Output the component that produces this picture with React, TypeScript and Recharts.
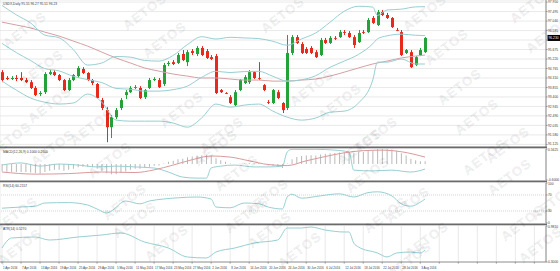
import { Bar, CartesianGrid, ComposedChart, Line, ReferenceLine, XAxis, YAxis } from 'recharts'

// USDX daily, 1 Apr 2016 – 4 Aug 2016
const tickLabels = [
  '1 Apr 2016', '7 Apr 2016', '13 Apr 2016', '19 Apr 2016', '25 Apr 2016', '29 Apr 2016',
  '5 May 2016', '11 May 2016', '17 May 2016', '23 May 2016', '27 May 2016', '2 Jun 2016',
  '8 Jun 2016', '14 Jun 2016', '20 Jun 2016', '24 Jun 2016', '30 Jun 2016', '6 Jul 2016',
  '12 Jul 2016', '18 Jul 2016', '22 Jul 2016', '28 Jul 2016', '3 Aug 2016',
]

const openPx = [
  94.59, 94.31, 94.26, 94.31, 94.31, 94.21, 94.11, 93.83, 93.54, 93.63,
  94.5, 94.59, 94.45, 94.21, 93.73, 94.21, 94.4, 94.74, 94.55, 94.21,
  94.02, 93.25, 92.77, 91.95, 92.43, 92.87, 93.49, 93.63, 93.83, 93.83,
  93.39, 93.83, 94.21, 94.21, 94.02, 94.98, 95.07, 95.03, 95.46, 95.07,
  95.6, 95.46, 95.75, 95.6, 95.31, 95.36, 93.73, 93.59, 93.39, 93.01,
  93.73, 94.07, 94.11, 94.59, 94.31, 93.97, 93.15, 93.11, 93.63, 93.11,
  92.87, 95.51, 96.27, 95.94, 95.7, 95.75, 95.55, 95.41, 96.13, 95.99,
  96.23, 96.27, 96.51, 96.47, 96.27, 96.03, 96.51, 96.51, 97.19, 96.85,
  97.47, 97.33, 97.19, 96.61, 96.51, 95.51, 95.55, 94.93, 95.41, 95.55,
]
const closePx = [
  94.21, 94.26, 94.31, 94.26, 94.21, 94.11, 93.83, 93.49, 93.59, 94.5,
  94.59, 94.45, 94.21, 93.73, 94.21, 94.45, 94.79, 94.55, 94.21, 94.07,
  93.35, 92.87, 91.95, 92.43, 92.77, 93.25, 93.63, 93.83, 93.87, 93.35,
  93.73, 94.21, 94.26, 93.87, 94.93, 95.03, 94.98, 95.41, 95.17, 95.55,
  95.51, 95.75, 95.41, 95.27, 95.22, 93.59, 93.63, 93.56, 93.11, 93.63,
  94.21, 94.35, 94.59, 94.31, 94.28, 93.73, 93.13, 93.73, 93.35, 92.77,
  95.51, 96.27, 95.99, 95.51, 95.51, 95.51, 95.31, 96.13, 95.99, 96.23,
  96.2, 96.51, 96.47, 96.27, 95.89, 96.47, 96.49, 97.09, 96.95, 97.47,
  97.33, 97.19, 96.75, 96.59, 95.41, 95.65, 94.83, 95.31, 95.65, 96.23,
]
const highPx = [
  94.69, 94.4, 94.4, 94.45, 94.59, 94.31, 94.21, 93.92, 93.68, 94.59,
  94.69, 94.69, 94.5, 94.26, 94.31, 94.5, 94.88, 94.83, 94.59, 94.26,
  94.07, 93.35, 92.91, 92.53, 92.87, 93.35, 93.73, 93.92, 93.97, 93.92,
  93.78, 94.31, 94.35, 94.31, 95.03, 95.12, 95.17, 95.51, 95.65, 95.65,
  95.7, 95.84, 95.84, 95.7, 95.41, 95.46, 93.78, 93.63, 93.49, 93.73,
  94.26, 94.45, 94.69, 94.64, 95.07, 94.02, 93.25, 93.78, 93.73, 93.15,
  96.37, 96.37, 96.37, 96.03, 95.79, 95.84, 95.65, 96.23, 96.23, 96.32,
  96.32, 96.61, 96.61, 96.56, 96.37, 96.61, 96.61, 97.19, 97.28, 97.57,
  97.57, 97.43, 97.23, 96.71, 96.61, 95.7, 95.65, 95.36, 95.75, 96.27,
]
const lowPx = [
  94.11, 94.21, 94.21, 94.16, 94.16, 94.07, 93.78, 93.44, 93.44, 93.54,
  94.45, 94.4, 94.16, 93.68, 93.68, 94.16, 94.31, 94.5, 94.16, 93.97,
  93.3, 92.77, 91.23, 91.43, 92.34, 92.77, 93.3, 93.59, 93.78, 93.3,
  93.3, 93.78, 94.16, 93.83, 93.92, 94.88, 94.93, 94.98, 95.12, 94.88,
  95.41, 95.36, 95.36, 95.22, 95.17, 93.54, 93.59, 93.54, 93.06, 92.96,
  93.68, 94.02, 94.02, 94.26, 94.21, 93.68, 93.06, 93.06, 93.3, 92.63,
  92.77, 95.41, 95.94, 95.46, 95.46, 95.46, 95.27, 95.36, 95.94, 95.94,
  96.13, 96.23, 96.37, 96.23, 95.75, 95.99, 96.42, 96.47, 96.9, 96.8,
  97.28, 97.14, 96.71, 96.56, 95.36, 95.46, 94.79, 94.88, 95.36, 95.51,
]

// Bollinger bands and SMA, read at these bar positions
const bandIdx = [0, 3, 6, 9, 12, 15, 18, 21, 24, 27, 30, 33, 36, 39, 42, 45, 48, 51, 54, 57, 60, 63, 66, 69, 72, 75, 78, 79, 81, 84, 87, 89]
const bbUpper = [97.79, 97.34, 96.95, 96.37, 96.24, 95.67, 94.93, 95.03, 95.34, 95.31, 95.15, 95.12, 95.39, 95.91, 96.29, 96.18, 96.26, 96.23, 96.2, 96.07, 95.88, 96.18, 96.47, 96.98, 97.51, 97.75, 97.71, 97.31, 97.57, 97.61, 97.72, 97.73]
const bbMiddle = [95.97, 95.53, 95.15, 94.76, 94.65, 94.39, 94.23, 94.09, 93.81, 93.77, 93.68, 93.68, 93.75, 93.92, 94.34, 94.63, 94.57, 94.62, 94.63, 94.39, 94.16, 94.22, 94.42, 94.82, 95.12, 95.44, 95.95, 96.19, 96.33, 96.41, 96.36, 96.34]
const bbLower = [94.16, 93.73, 93.35, 93.15, 93.06, 93.11, 93.54, 93.15, 92.29, 92.24, 92.24, 92.24, 92.15, 91.95, 92.39, 93.06, 92.91, 93.01, 93.06, 92.72, 92.43, 92.29, 92.39, 92.67, 92.72, 93.11, 94.21, 95.07, 95.07, 95.22, 94.98, 94.98]
const sma50 = [96.99, 96.85, 96.71, 96.51, 96.32, 96.08, 95.84, 95.55, 95.27, 95.03, 94.79, 94.64, 94.5, 94.4, 94.31, 94.31, 94.26, 94.21, 94.21, 94.16, 94.16, 94.21, 94.26, 94.4, 94.59, 94.79, 94.98, 95.03, 95.12, 95.27, 95.36, 95.41]

// MACD pane
const macdHist = [
  -0.28, -0.29, -0.3, -0.3, -0.3, -0.3, -0.32, -0.35, -0.36, -0.3,
  -0.25, -0.22, -0.22, -0.25, -0.22, -0.18, -0.12, -0.1, -0.11, -0.12,
  -0.18, -0.25, -0.35, -0.38, -0.38, -0.34, -0.28, -0.22, -0.18, -0.18,
  -0.15, -0.1, -0.07, -0.06, 0.02, 0.08, 0.12, 0.18, 0.2, 0.25,
  0.28, 0.32, 0.33, 0.33, 0.32, 0.22, 0.14, 0.08, 0.02, 0.0,
  0.01, 0.02, 0.04, 0.04, 0.04, 0.0, -0.06, -0.07, -0.1, -0.15,
  0.02, 0.18, 0.26, 0.3, 0.32, 0.33, 0.32, 0.36, 0.38, 0.4,
  0.41, 0.43, 0.44, 0.44, 0.42, 0.44, 0.45, 0.5, 0.52, 0.56,
  0.57, 0.57, 0.54, 0.5, 0.4, 0.32, 0.2, 0.14, 0.1, 0.1,
]
const signalIdx = [0, 7, 14, 21, 28, 32, 36, 40, 44, 48, 52, 56, 60, 64, 68, 72, 76, 80, 84, 89]
const macdSignal = [-0.3, -0.38, -0.36, -0.3, -0.32, -0.22, -0.04, 0.16, 0.3, 0.26, 0.12, -0.02, -0.06, 0.12, 0.28, 0.42, 0.5, 0.52, 0.46, 0.26]
const tealIdx = [0, 4, 8, 12, 16, 20, 24, 28, 32, 35, 38, 41, 43, 44, 46, 49, 53, 56, 59, 60, 61, 66, 70, 73, 74, 78, 82, 86, 89]
const macdTeal = [-0.04, 0.04, -0.08, 0, -0.04, -0.11, -0.08, -0.11, -0.15, -0.3, -0.49, -0.53, -0.53, -0.15, -0.08, -0.04, -0.11, -0.11, -0.08, 0.45, 0.55, 0.55, 0.52, 0.45, -0.23, -0.26, -0.23, -0.3, -0.19]

// RSI(14)
const rsiIdx = [0, 4, 7, 9, 14, 18, 20, 22, 23, 26, 29, 31, 34, 37, 41, 44, 45, 48, 51, 54, 56, 59, 60, 61, 63, 67, 71, 74, 77, 79, 82, 84, 86, 88, 89]
const rsiVals = [37, 40, 42, 50, 51, 45, 35, 25, 30, 55, 48, 55, 60, 63, 65, 60, 40, 38, 50, 48, 40, 35, 65, 72, 62, 68, 73, 65, 76, 78, 68, 48, 42, 52, 60]

// ATR(14)
const atrIdx = [0, 2, 7, 10, 16, 21, 25, 30, 35, 39, 43, 45, 49, 53, 58, 60, 63, 65, 68, 72, 73, 74, 75, 79, 81, 83, 86, 88, 89]
const atrVals = [0.565, 0.754, 0.773, 0.716, 0.773, 0.811, 0.849, 0.678, 0.565, 0.395, 0.376, 0.489, 0.565, 0.659, 0.716, 0.943, 0.943, 0.962, 0.905, 0.868, 0.868, 0.659, 0.584, 0.47, 0.395, 0.47, 0.489, 0.47, 0.527]

const priceTicks = [97.95, 97.495, 97.04, 96.585, 96.13, 95.675, 95.22, 94.765, 94.31, 93.855, 93.4, 92.945, 92.49, 92.035, 91.58, 91.125]
const macdTicks = [0.5625, -0.6]
const rsiTicks = [100, 70, 30, 0]
const atrTicks = [0.981, 0.3]
const xTicks = [0, 4, 8, 12, 16, 20, 24, 28, 32, 36, 40, 44, 48, 52, 56, 60, 64, 68, 72, 76, 80, 84, 88, 92, 96, 100, 104, 108, 112]

// AETOS watermark spots
const watermarks = [
  [25, 30], [42, 68], [50, 105], [92, 127], [10, 140], [145, 12], [165, 40], [182, 110], [222, 135],
  [283, 15], [312, 88], [340, 102], [425, 13], [447, 47], [460, 87], [477, 117], [532, 5], [548, 35],
  [508, 145], [376, 135], [53, 148], [110, 160], [216, 148], [237, 173], [125, 202], [267, 197],
  [360, 147], [368, 175], [485, 157], [510, 177], [408, 205], [553, 202], [16, 215], [135, 220],
  [167, 243], [247, 215], [270, 230], [20, 247], [386, 215], [427, 240], [523, 223], [541, 245],
  [300, 250], [410, 260],
]

type Row = {
  i: number; o: number; h: number; l: number; c: number; hist: number
  up: number | null; mid: number | null; dn: number | null; ma: number | null
  sig: number | null; teal: number | null; rsi: number | null; atr: number | null
}

const rows: Row[] = openPx.map((o, i) => ({
  i, o, h: highPx[i], l: lowPx[i], c: closePx[i], hist: macdHist[i],
  up: null, mid: null, dn: null, ma: null, sig: null, teal: null, rsi: null, atr: null,
}))
function put(idx: number[], vals: number[], key: keyof Row) {
  idx.forEach((k, j) => { (rows[k] as any)[key] = vals[j] })
}
put(bandIdx, bbUpper, 'up')
put(bandIdx, bbMiddle, 'mid')
put(bandIdx, bbLower, 'dn')
put(bandIdx, sma50, 'ma')
put(signalIdx, macdSignal, 'sig')
put(tealIdx, macdTeal, 'teal')
put(rsiIdx, rsiVals, 'rsi')
put(atrIdx, atrVals, 'atr')

const X_DOMAIN: [number, number] = [-0.42, 114.45]
const FONT = '"Liberation Sans", Arial, sans-serif'
const GRID = '#e3e3e3'
const AXIS = '#8c8c8c'
const TXT = '#3c3c3c'
const UP = '#23a23a'
const DOWN = '#e8291c'
const BAND = '#98cfd2'
const MA = '#d6a0a4'
const FS = 3.3

// Recharts wants a keyed element per point, so hand it an empty group.
const noDot = (p: any) => <g key={`nd-${p.index}`} />

function Candle(props: any) {
  const { x, y, width, height, payload } = props
  if (x == null || y == null || !payload) return <g />
  const { o, c, h, l } = payload as Row
  const top = Math.min(y, y + height)
  const hh = Math.abs(height)
  const k = hh / (h - l)
  const cx = Math.round(x + width / 2) + 0.5
  const bTop = top + (h - Math.max(o, c)) * k
  const bBot = top + (h - Math.min(o, c)) * k
  const col = c >= o ? UP : DOWN
  return (
    <g>
      <line x1={cx} x2={cx} y1={top} y2={top + hh} stroke={col} strokeWidth={1} />
      <rect x={cx - 1.5} y={bTop} width={3} height={Math.max(bBot - bTop, 0.8)} fill={col} />
    </g>
  )
}

const rightTick = (fmt: (v: number) => string, shift?: (v: number) => number, skip?: (v: number) => boolean) => (p: any) => {
  const v = p.payload.value
  if (skip && skip(v)) return <g />
  return (
    <text x={p.x} y={p.y} dy={1.1 + (shift ? shift(v) : 0)} fontSize={FS} fill={TXT} fontFamily={FONT} textAnchor="start">
      {fmt(v)}
    </text>
  )
}

function DateTick(p: any) {
  const label = tickLabels[p.payload.value / 4]
  if (!label) return <g />
  return (
    <text x={p.x + 1} y={p.y + 3.2} fontSize={FS - 0.3} fill={TXT} fontFamily={FONT} textAnchor="start">
      {label}
    </text>
  )
}

const hiddenX = () => (
  <XAxis
    type="number"
    dataKey="i"
    domain={X_DOMAIN}
    ticks={xTicks}
    allowDataOverflow
    height={0}
    tick={false}
    tickLine={false}
    axisLine={false}
  />
)

const lineProps = {
  type: 'monotone' as const,
  strokeWidth: 1,
  dot: noDot,
  activeDot: false,
  connectNulls: true,
  isAnimationActive: false,
  legendType: 'none' as const,
}

function PriceBox(p: any) {
  const vb = p.viewBox
  if (!vb) return <g />
  const x = vb.x + vb.width + 1.5
  return (
    <g>
      <rect x={x} y={vb.y - 3} width={12.5} height={6} fill="#000" />
      <text x={x + 1} y={vb.y + 1.2} fontSize={FS} fill="#fff" fontFamily={FONT}>
        {closePx[closePx.length - 1].toFixed(3)}
      </text>
    </g>
  )
}

export default function App() {
  const lastClose = closePx[closePx.length - 1]
  return (
    <div style={{ position: 'absolute', left: 0, top: 0, width: 560, height: 271, background: '#fff', overflow: 'hidden' }}>
      {/* main pane */}
      <div style={{ position: 'absolute', left: 0, top: 0 }}>
        <ComposedChart width={560} height={147} data={rows} margin={{ top: 0, right: 0, bottom: 0, left: 0 }}>
          <CartesianGrid stroke={GRID} strokeWidth={0.8} />
          {hiddenX()}
          <YAxis
            orientation="right"
            width={14}
            domain={[91, 98.05]}
            ticks={priceTicks}
            interval={0}
            allowDataOverflow
            axisLine={{ stroke: AXIS }}
            tickLine={{ stroke: AXIS }}
            tickSize={1.5}
            tickMargin={0.5}
            tick={rightTick((v) => v.toFixed(3), undefined, (v) => Math.abs(v - lastClose) < 0.15)}
          />
          <Line dataKey="ma" stroke={MA} {...lineProps} />
          <Line dataKey="up" stroke={BAND} {...lineProps} />
          <Line dataKey="mid" stroke={BAND} {...lineProps} />
          <Line dataKey="dn" stroke={BAND} {...lineProps} />
          <Bar dataKey={(r: Row) => [r.l, r.h]} barSize={3} shape={Candle} isAnimationActive={false} />
          <ReferenceLine y={lastClose} stroke="none" ifOverflow="visible" label={PriceBox} />
        </ComposedChart>
      </div>

      {/* MACD pane */}
      <div style={{ position: 'absolute', left: 0, top: 147 }}>
        <ComposedChart width={560} height={34} data={rows} margin={{ top: 2, right: 0, bottom: 1, left: 0 }}>
          <CartesianGrid stroke={GRID} strokeWidth={0.8} horizontal={false} />
          {hiddenX()}
          <YAxis
            orientation="right"
            width={14}
            domain={[-0.6, 0.5625]}
            ticks={macdTicks}
            interval={0}
            allowDataOverflow
            axisLine={{ stroke: AXIS }}
            tickLine={{ stroke: AXIS }}
            tickSize={1.5}
            tickMargin={0.5}
            tick={rightTick((v) => v.toFixed(4), (v) => (v > 0 ? 0.8 : -0.6))}
          />
          <Bar dataKey="hist" barSize={1} fill="#b9b9b9" isAnimationActive={false} />
          <Line dataKey="teal" stroke={BAND} {...lineProps} />
          <Line dataKey="sig" stroke="#dc9a9c" {...lineProps} />
        </ComposedChart>
      </div>

      {/* RSI pane */}
      <div style={{ position: 'absolute', left: 0, top: 181 }}>
        <ComposedChart width={560} height={43} data={rows} margin={{ top: 2, right: 0, bottom: 1, left: 0 }}>
          <CartesianGrid stroke={GRID} strokeWidth={0.8} horizontal={false} />
          {hiddenX()}
          <YAxis
            orientation="right"
            width={14}
            domain={[0, 100]}
            ticks={rsiTicks}
            interval={0}
            axisLine={{ stroke: AXIS }}
            tickLine={{ stroke: AXIS }}
            tickSize={1.5}
            tickMargin={0.5}
            tick={rightTick((v) => String(v), (v) => (v === 100 ? 0.8 : v === 0 ? -0.6 : 0))}
          />
          <ReferenceLine y={70} stroke="#d4d4d4" strokeDasharray="1 1" />
          <ReferenceLine y={30} stroke="#d4d4d4" strokeDasharray="1 1" />
          <Line dataKey="rsi" stroke={BAND} {...lineProps} />
        </ComposedChart>
      </div>

      {/* ATR pane + date axis */}
      <div style={{ position: 'absolute', left: 0, top: 224 }}>
        <ComposedChart width={560} height={47} data={rows} margin={{ top: 2, right: 0, bottom: 0, left: 0 }}>
          <CartesianGrid stroke={GRID} strokeWidth={0.8} horizontal={false} />
          <XAxis
            type="number"
            dataKey="i"
            domain={X_DOMAIN}
            ticks={xTicks}
            interval={0}
            allowDataOverflow
            height={9}
            axisLine={{ stroke: AXIS }}
            tickLine={{ stroke: AXIS }}
            tickSize={1.5}
            tick={DateTick}
          />
          <YAxis
            orientation="right"
            width={14}
            domain={[0.3, 0.981]}
            ticks={atrTicks}
            interval={0}
            allowDataOverflow
            axisLine={{ stroke: AXIS }}
            tickLine={{ stroke: AXIS }}
            tickSize={1.5}
            tickMargin={0.5}
            tick={rightTick((v) => v.toFixed(4), (v) => (v > 0.9 ? 0.8 : -0.6))}
          />
          <Line dataKey="atr" stroke={BAND} {...lineProps} />
        </ComposedChart>
      </div>

      {/* separators, pane titles, watermark */}
      <svg width={560} height={271} style={{ position: 'absolute', left: 0, top: 0, pointerEvents: 'none' }}>
        <rect x={0} y={146.5} width={547} height={1.8} fill="#6a6a6a" />
        <rect x={0} y={180.5} width={547} height={1.8} fill="#6a6a6a" />
        <rect x={0} y={223.5} width={547} height={1.8} fill="#6a6a6a" />
        <g fontFamily={FONT} fontSize={FS} fill={TXT}>
          <text x={3} y={4.5}>USDX,Daily  95.55 96.27 95.51 96.23</text>
          <text x={3} y={152.5}>MACD(12,26,9) 0.1000 0.2600</text>
          <text x={3} y={186.5}>RSI(14) 60.2157</text>
          <text x={3} y={229.5}>ATR(14) 0.5270</text>
        </g>
        <g fontFamily={FONT} fontWeight="bold" fontSize={13} letterSpacing={1.2} textAnchor="middle">
          {watermarks.map(([x, y], k) => (
            <text
              key={k}
              x={x}
              y={y}
              dy={4}
              transform={`rotate(-37 ${x} ${y})`}
              fill="#000"
              fillOpacity={0.06}
              stroke="#000"
              strokeOpacity={0.09}
              strokeWidth={0.5}
            >
              AETOS
            </text>
          ))}
        </g>
      </svg>
    </div>
  )
}
